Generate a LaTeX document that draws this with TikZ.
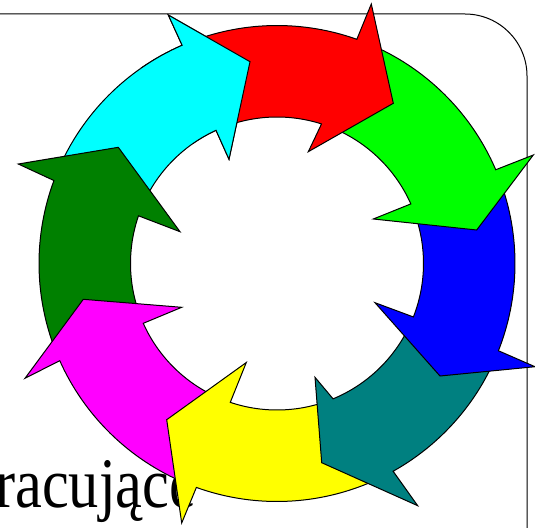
\documentclass[tikz,border=0pt]{standalone}
\usepackage{fontspec}
\setmainfont{Liberation Serif}
\usetikzlibrary{calc}
\definecolor{ringred}{RGB}{255,0,0}
\definecolor{ringlime}{RGB}{0,255,0}
\definecolor{ringblue}{RGB}{0,0,255}
\definecolor{ringteal}{RGB}{0,128,128}
\definecolor{ringyellow}{RGB}{255,255,0}
\definecolor{ringmagenta}{RGB}{255,0,255}
\definecolor{ringdkgreen}{RGB}{0,128,0}
\definecolor{ringcyan}{RGB}{0,255,255}
% #1 colour, #2 outer tail angle, #3 inner tail angle, #4 outer neck angle,
% #5 inner neck angle, #6 outer barb, #7 tip, #8 inner barb
\newcommand\ringarrow[8]{%
  \path[arr, fill=#1] ($(ctr)+(#2:238)$) arc[start angle=#2,end angle=#4,radius=238]
    -- #6 -- #7 -- #8 -- ($(ctr)+(#5:146.5)$) arc[start angle=#5,end angle=#3,radius=146.5] -- cycle;}
\begin{document}
\begin{tikzpicture}[x=1pt,y=1pt,
  arr/.style={draw=black,line width=1pt,line join=miter,miter limit=10},
  frame/.style={draw=black,line width=1pt}]
\useasboundingbox (0,0) rectangle (535,-527);
\coordinate (ctr) at (277,-263.5);
% frame
\coordinate (fa) at (-2,-14);
\coordinate (fb) at (527,-530);
\draw[frame] (fa) -- (465,-14) arc[start angle=90,end angle=0,radius=62] -- (fb);
% text behind the ring
\node[anchor=base west, inner sep=0pt, font=\fontsize{71}{80}\selectfont] (word) at (-5,-507) {\scalebox{0.85}[1]{racujące}};
% arrows
\ringarrow{ringcyan}{156.6}{158.0}{113.5}{114.6}{(168.3,-15)}{(250,-61.7)}{(229,-159.3)}
\ringarrow{ringdkgreen}{201.1}{201.1}{159.6}{161.0}{(18.3,-164)}{(118.3,-147.3)}{(180,-231.7)}
\ringarrow{ringmagenta}{-112.8}{-111.6}{-155.9}{-155.9}{(25,-378.3)}{(83.3,-299.3)}{(181.7,-307.3)}
\ringarrow{ringyellow}{-63.8}{-70.5}{-109.8}{-108.6}{(181.7,-523)}{(166.7,-419.7)}{(246.3,-362.5)}
\ringarrow{ringteal}{-24.5}{-24.4}{-60.8}{-67.5}{(417.7,-505.7)}{(321.7,-462.7)}{(315,-377.3)}
\ringarrow{ringblue}{20.2}{21.0}{-21.5}{-21.4}{(535,-366.7)}{(440,-376)}{(375,-302.7)}
\ringarrow{ringlime}{67.4}{69.3}{23.2}{24.0}{(533.3,-155)}{(476.7,-230)}{(373.3,-219)}
\ringarrow{ringred}{110.5}{111.6}{70.4}{72.3}{(371.3,-4)}{(393.3,-103.3)}{(308.3,-151.7)}
% cyan head over the red tail
\begin{scope}
  \clip (ctr) -- ($(ctr)+(85:320)$) arc[start angle=85,end angle=125,radius=320] -- cycle;
  \ringarrow{ringcyan}{156.6}{158.0}{113.5}{114.6}{(168.3,-15)}{(250,-61.7)}{(229,-159.3)}
\end{scope}
\end{tikzpicture}
\end{document}
